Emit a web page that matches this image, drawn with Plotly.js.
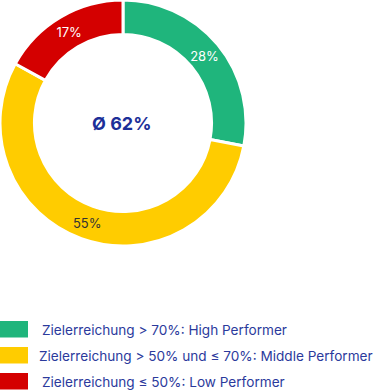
<!DOCTYPE html>
<html>
<head>
<meta charset="utf-8">
<script src="https://cdn.plot.ly/plotly-3.0.1.min.js"></script>
<style>html,body{margin:0;padding:0;background:#fff;}#chart{width:380px;height:390px;}</style>
</head>
<body>
<div id="chart"></div>
<script>
const categories = [
  "Zielerreichung > 70%: High Performer",
  "Zielerreichung > 50% und ≤ 70%: Middle Performer",
  "Zielerreichung ≤ 50%: Low Performer"
];
const values = [28, 55, 17];
const colors = ["#1fb57c", "#ffcc00", "#d40000"];
const labelColors = ["#ffffff", "#333333", "#ffffff"];
const centerLabel = "Ø 62%";

const W = 380, H = 390;
const legendTop = [321, 347, 373];
const legendTextX = [40, 37, 40];

const shapes = [], annotations = [];
categories.forEach((c, i) => {
  shapes.push({
    type: "rect", xref: "paper", yref: "paper",
    x0: 0, x1: 28 / W,
    y0: 1 - (legendTop[i] + 16.5) / H, y1: 1 - legendTop[i] / H,
    fillcolor: colors[i], line: {width: 0}
  });
  annotations.push({
    xref: "paper", yref: "paper",
    x: legendTextX[i] / W, y: 1 - (legendTop[i] + 8.5) / H,
    xanchor: "left", yanchor: "middle", showarrow: false,
    text: c, font: {family: "Inter, sans-serif", size: 13.6, color: "#2b3a9c"}
  });
});
annotations.push({
  xref: "paper", yref: "paper",
  x: 121 / W, y: 1 - 124 / H, xanchor: "center", yanchor: "middle",
  showarrow: false, text: "<b>" + centerLabel + "</b>",
  font: {family: "Inter, sans-serif", size: 18, color: "#1c2f98"}
});

const trace = {
  type: "pie",
  labels: categories,
  values: values,
  hole: 0.72,
  sort: false,
  direction: "clockwise",
  rotation: 0,
  marker: {colors: colors, line: {color: "#ffffff", width: 3}},
  texttemplate: "%{value}%",
  textposition: "inside",
  insidetextorientation: "horizontal",
  textfont: {family: "Inter, sans-serif", size: 13, color: labelColors},
  domain: {x: [0, 246 / W], y: [1 - 246 / H, 1]},
  hoverinfo: "none",
  showlegend: false
};

Plotly.newPlot("chart", [trace], {
  width: W, height: H,
  margin: {l: 0, r: 0, t: 0, b: 0},
  paper_bgcolor: "#ffffff",
  showlegend: false,
  shapes: shapes,
  annotations: annotations
}, {displayModeBar: false, staticPlot: true});
</script>
</body>
</html>
